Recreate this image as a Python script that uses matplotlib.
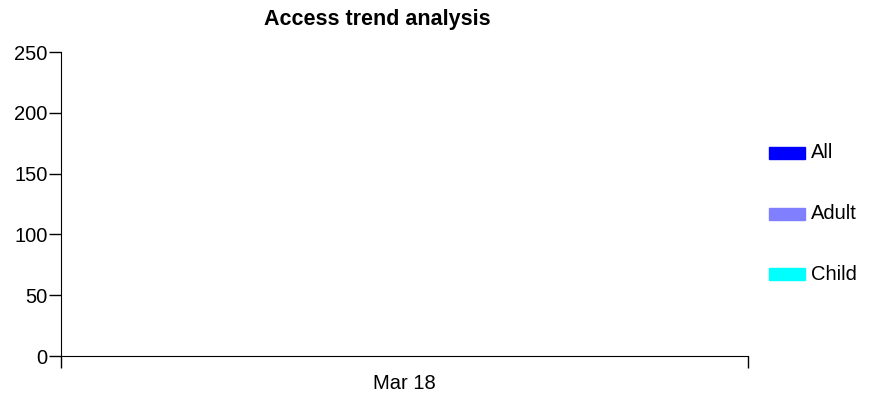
import matplotlib
matplotlib.use('Agg')
import matplotlib.pyplot as plt
from matplotlib.patches import Rectangle

plt.rcParams['font.family'] = ['Liberation Sans', 'DejaVu Sans']

# 数据
categories = ['Mar 18']
series_names = ['All', 'Adult', 'Child']
series_colors = ['#0000ff', '#8080ff', '#00ffff']
y_ticks = [0, 50, 100, 150, 200, 250]

W, H = 875, 394
fig = plt.figure(figsize=(W / 100, H / 100), dpi=100)
ax = fig.add_axes([61 / W, 1 - 356 / H, (748 - 61) / W, (356 - 52) / H])

ax.set_xlim(0, len(categories))
ax.set_ylim(0, 250)
ax.set_yticks(y_ticks)
ax.set_xticks(range(len(categories) + 1))
ax.set_xticklabels([])
ax.set_xticks([i + 0.5 for i in range(len(categories))], minor=True)
ax.set_xticklabels(categories, minor=True)
ax.tick_params(axis='x', which='major', length=8.6, width=1)
ax.tick_params(axis='x', which='minor', length=0, pad=13)
ax.tick_params(axis='y', length=8.6, width=1, pad=1)
ax.tick_params(which='both', labelsize=14.5)
for s in ['top', 'right']:
    ax.spines[s].set_visible(False)

fig.text(377 / W, 1 - 20 / H, 'Access trend analysis', ha='center', va='center',
         fontsize=15.5, fontweight='bold')

# 图例
for i, (name, c) in enumerate(zip(series_names, series_colors)):
    yc = 153 + i * 60.5
    fig.patches.append(Rectangle((769 / W, 1 - (yc + 6) / H), 36 / W, 12 / H,
                                 transform=fig.transFigure, color=c))
    fig.text(811 / W, 1 - yc / H, name, va='center', fontsize=14.5)

fig.savefig('out.png', dpi=100)
